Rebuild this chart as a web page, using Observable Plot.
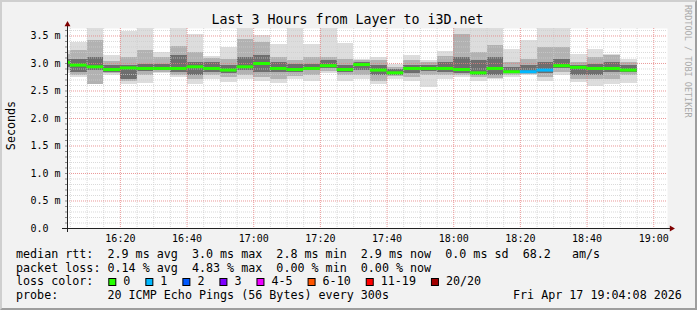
<!DOCTYPE html>
<html><head><meta charset="utf-8">
<script src="https://cdn.jsdelivr.net/npm/d3@7"></script>
<script src="https://cdn.jsdelivr.net/npm/@observablehq/plot@0.6"></script>
<style>
html,body{margin:0;padding:0;background:#f2f2f2;}
#wrap{position:relative;width:697px;height:310px;overflow:hidden;background:#f2f2f2;}
#wrap svg{position:absolute;left:0;top:0;}
#border{position:absolute;left:0;top:0;width:697px;height:310px;box-sizing:border-box;border-style:solid;border-width:2px;border-color:#cfcfcf #9e9e9e #9e9e9e #cfcfcf;pointer-events:none;}
</style></head>
<body><div id="wrap"></div>
<script>
// ---- data ----
const day = "2026-04-17";
const rangeStart = "16:04:08";
const rangeEnd = "19:04:08";
// start of each 5-minute step
const times = ["16:00","16:05","16:10","16:15","16:20","16:25","16:30","16:35","16:40","16:45","16:50","16:55",
  "17:00","17:05","17:10","17:15","17:20","17:25","17:30","17:35","17:40","17:45","17:50","17:55",
  "18:00","18:05","18:10","18:15","18:20","18:25","18:30","18:35","18:40","18:45","18:50"];
// smoke envelope (ms): max, upper-mid, upper-dark, median, lower-dark, lower-mid, min
const pMax    = [3.23,3.38,3.63,3.14,3.59,3.63,3.20,3.63,3.52,3.13,3.29,3.63,3.50,3.35,3.63,3.34,3.63,3.37,3.08,3.11,2.99,3.15,3.05,3.21,3.63,3.63,3.63,3.25,3.41,3.63,3.63,3.17,3.25,3.17,3.07];
const pUpMid  = [3.17,3.23,3.41,3.03,3.11,3.23,3.11,3.31,3.20,3.09,3.08,3.43,3.38,3.11,3.05,3.11,3.11,3.08,3.05,3.05,2.93,3.05,3.02,3.13,3.53,3.20,3.32,3.02,3.08,3.29,3.29,3.02,3.11,3.14,3.02];
const pUpDark = [3.08,3.08,3.11,2.97,2.97,2.99,2.99,3.14,3.02,3.02,2.97,3.11,3.14,3.02,2.99,2.99,3.05,2.96,3.02,2.96,2.89,2.97,2.97,3.02,3.11,3.05,3.11,2.93,2.96,3.02,3.08,2.97,2.99,3.02,2.96];
const pMedian = [3.02,2.97,2.94,2.89,2.92,2.91,2.91,2.91,2.94,2.91,2.88,2.94,3.00,2.91,2.89,2.91,2.96,2.89,2.98,2.88,2.83,2.91,2.91,2.91,2.89,2.83,2.91,2.85,2.85,2.88,2.96,2.93,2.91,2.91,2.88];
const pLoDark = [2.93,2.84,2.87,2.84,2.71,2.85,2.87,2.84,2.78,2.84,2.82,2.87,2.84,2.84,2.84,2.87,2.91,2.84,2.87,2.78,2.79,2.81,2.85,2.84,2.81,2.79,2.79,2.82,2.82,2.81,2.90,2.78,2.79,2.84,2.84];
const pLoMid  = [2.87,2.79,2.61,2.81,2.68,2.79,2.84,2.79,2.71,2.78,2.75,2.79,2.75,2.71,2.76,2.78,2.85,2.78,2.78,2.68,2.76,2.75,2.78,2.78,2.78,2.75,2.73,2.79,2.80,2.75,2.84,2.71,2.71,2.71,2.78];
const pMin    = [2.82,2.75,2.61,2.78,2.61,2.64,2.81,2.75,2.61,2.71,2.65,2.71,2.68,2.64,2.71,2.68,2.81,2.68,2.71,2.61,2.71,2.68,2.56,2.71,2.75,2.68,2.70,2.75,2.78,2.68,2.79,2.65,2.58,2.61,2.64];
const lossCount = [0,0,0,0,0,0,0,0,0,0,0,0,0,0,0,0,0,0,0,0,0,0,0,0,0,0,0,0,1,1,0,0,0,0,0];

const xTickLabels = ["16:20","16:40","17:00","17:20","17:40","18:00","18:20","18:40","19:00"];
const yTicks = [0,0.5,1.0,1.5,2.0,2.5,3.0,3.5];
const yTickLabels = ["0.0\u00a0\u00a0","0.5 m","1.0 m","1.5 m","2.0 m","2.5 m","3.0 m","3.5 m"];

const lossLabels = ["0","1","2","3","4-5","6-10","11-19","20/20"];
const lossColors = ["#26ff00","#00b8ff","#0059ff","#7e00ff","#ee00ff","#ff5500","#ff0000","#a10000"];

const titleText = "Last 3 Hours from Layer to i3D.net";
const yLabel = "Seconds";
const watermark = "RRDTOOL / TOBI OETIKER";
const rttStats = ["2.9","3.0","2.8","2.9","0.0","68.2"];
const lossStats = ["0.14","4.83","0.00","0.00"];
const probeText = "20 ICMP Echo Pings (56 Bytes) every 300s";
const dateText = "Fri Apr 17 19:04:08 2026";

// ---- build ----
const parse = d3.utcParse("%Y-%m-%d %H:%M:%S");
const P = s => parse(`${day} ${s.length === 5 ? s + ":00" : s}`);
const t0 = P(rangeStart), t1 = P(rangeEnd);
const STEP = 5 * 60 * 1000;
const yMax = 3.636;
const lossIndex = n => n === 0 ? 0 : n === 1 ? 1 : n === 2 ? 2 : n === 3 ? 3 : n <= 5 ? 4 : n <= 10 ? 5 : n <= 19 ? 6 : 7;

const cols = times.map((s, i) => {
  const st = P(s);
  return {
    start: st < t0 ? t0 : st, end: new Date(+st + STEP),
    max: pMax[i], upMid: pUpMid[i], upDark: pUpDark[i], median: pMedian[i],
    loDark: pLoDark[i], loMid: pLoMid[i], min: pMin[i],
    color: lossColors[lossIndex(lossCount[i])]
  };
});

const gridX = d3.utcMinute.every(5).range(t0, t1);
const majorX = gridX.filter(d => d.getUTCMinutes() % 20 === 0);
const minorX = gridX.filter(d => d.getUTCMinutes() % 20 !== 0);
const gridY = d3.range(1, 37).map(k => k / 10);
const majorY = gridY.filter(v => Math.round(v * 10) % 5 === 0);
const minorY = gridY.filter(v => Math.round(v * 10) % 5 !== 0);

const xTickDates = xTickLabels.map(P);
const xLabelOf = new Map(xTickDates.map((d, i) => [+d, xTickLabels[i]]));
const yLabelOf = new Map(yTicks.map((v, i) => [v, yTickLabels[i]]));

const GRID = "rgba(204,204,204,0.75)";
const MGRID = "rgba(230,128,128,0.8)";
const AXIS = "#212121";
const ARROW = "#800000";

const chart = Plot.plot({
  width: 697, height: 310,
  marginLeft: 67, marginRight: 30, marginTop: 28, marginBottom: 82,
  style: {background: "transparent", fontFamily: "DejaVu Sans Mono", fontSize: "10px", color: "#000", overflow: "visible"},
  x: {type: "utc", domain: [t0, t1]},
  y: {domain: [0, yMax]},
  marks: [
    Plot.frame({fill: "#ffffff", stroke: "none"}),
    Plot.rect(cols, {x1: "start", x2: "end", y1: "min", y2: "max", fill: "#dddddd", shapeRendering: "crispEdges"}),
    Plot.rect(cols, {x1: "start", x2: "end", y1: "loMid", y2: "upMid", fill: "#b2b2b2", shapeRendering: "crispEdges"}),
    Plot.rect(cols, {x1: "start", x2: "end", y1: "loDark", y2: "upDark", fill: "#6e6e6e", shapeRendering: "crispEdges"}),
    Plot.ruleX(minorX, {stroke: GRID, strokeDasharray: "1,1"}),
    Plot.ruleY(minorY, {stroke: GRID, strokeDasharray: "1,1"}),
    Plot.ruleX(majorX, {stroke: MGRID, strokeDasharray: "1,1"}),
    Plot.ruleY(majorY, {stroke: MGRID, strokeDasharray: "1,1"}),
    Plot.ruleY(cols, {y: "median", x1: "start", x2: "end", stroke: "color", strokeWidth: 3}),
    Plot.ruleY(gridY, {x1: () => t0, x2: () => t0, insetLeft: -2, stroke: "#8a8a8a"}),
    Plot.ruleY([0], {stroke: AXIS, insetLeft: -5, insetRight: -3}),
    Plot.ruleX([t0], {stroke: AXIS, insetTop: -3, insetBottom: -4}),
    Plot.dot([t0], {x: d => d, y: () => yMax, symbol: "triangle", r: 2.2, fill: ARROW, stroke: "none", dy: -4}),
    Plot.dot([0], {x: () => t1, y: d => d, symbol: "triangle", r: 2.2, fill: ARROW, stroke: "none", rotate: 90, dx: 4}),
    Plot.axisX({ticks: xTickDates, tickSize: 0, tickPadding: 6, tickFormat: d => xLabelOf.get(+d), label: null, fontSize: 10}),
    Plot.axisY({ticks: yTicks, tickSize: 0, tickPadding: 7, tickFormat: v => yLabelOf.get(v), label: null, fontSize: 10})
  ]
});

const wrap = document.getElementById("wrap");
wrap.appendChild(chart);

// ---- texts and legend overlay ----
const NS = "http://www.w3.org/2000/svg";
const ov = document.createElementNS(NS, "svg");
ov.setAttribute("width", 697); ov.setAttribute("height", 310);
ov.style.fontFamily = "'DejaVu Sans Mono', monospace";
wrap.appendChild(ov);
function txt(s, x, y, size, opts = {}) {
  const t = document.createElementNS(NS, "text");
  t.setAttribute("x", x); t.setAttribute("y", y);
  t.setAttribute("font-size", size);
  t.setAttribute("fill", opts.fill || "#000");
  if (opts.anchor) t.setAttribute("text-anchor", opts.anchor);
  if (opts.transform) t.setAttribute("transform", opts.transform);
  t.setAttributeNS("http://www.w3.org/XML/1998/namespace", "xml:space", "preserve");
  t.style.whiteSpace = "pre";
  t.textContent = s;
  ov.appendChild(t);
  return t;
}
txt(titleText, 347.5, 24, 13.3, {anchor: "middle"});
txt(yLabel, 0, 0, 11.7, {anchor: "middle", transform: "translate(15,125.5) rotate(-90)"});
txt(watermark, 0, 0, 8.5, {fill: "#aaaaaa", transform: "translate(685,5) rotate(90)"});

const LX = 16, FS = 11.7, CW = 7.04;
txt(`median rtt:  ${rttStats[0]} ms avg  ${rttStats[1]} ms max  ${rttStats[2]} ms min  ${rttStats[3]} ms now  ${rttStats[4]} ms sd  ${rttStats[5]}   am/s`, LX, 258, FS);
txt(`packet loss: ${lossStats[0]} % avg  ${lossStats[1]} % max  ${lossStats[2]} % min  ${lossStats[3]} % now`, LX, 271.5, FS);
txt("loss color:", LX, 285, FS);
let bx = 108.3;
lossLabels.forEach((lab, i) => {
  const r = document.createElementNS(NS, "rect");
  r.setAttribute("x", bx + 0.5); r.setAttribute("y", 278.5);
  r.setAttribute("width", 7); r.setAttribute("height", 7);
  r.setAttribute("fill", lossColors[i]); r.setAttribute("stroke", "#000");
  ov.appendChild(r);
  txt(lab, bx + 15, 285, FS);
  bx += 30 + lab.length * CW;
});
txt(`probe:       ${probeText}`, LX, 298.5, FS);
txt(dateText, 513, 298.5, FS);

const border = document.createElement("div");
border.id = "border";
wrap.appendChild(border);
</script>
</body></html>
